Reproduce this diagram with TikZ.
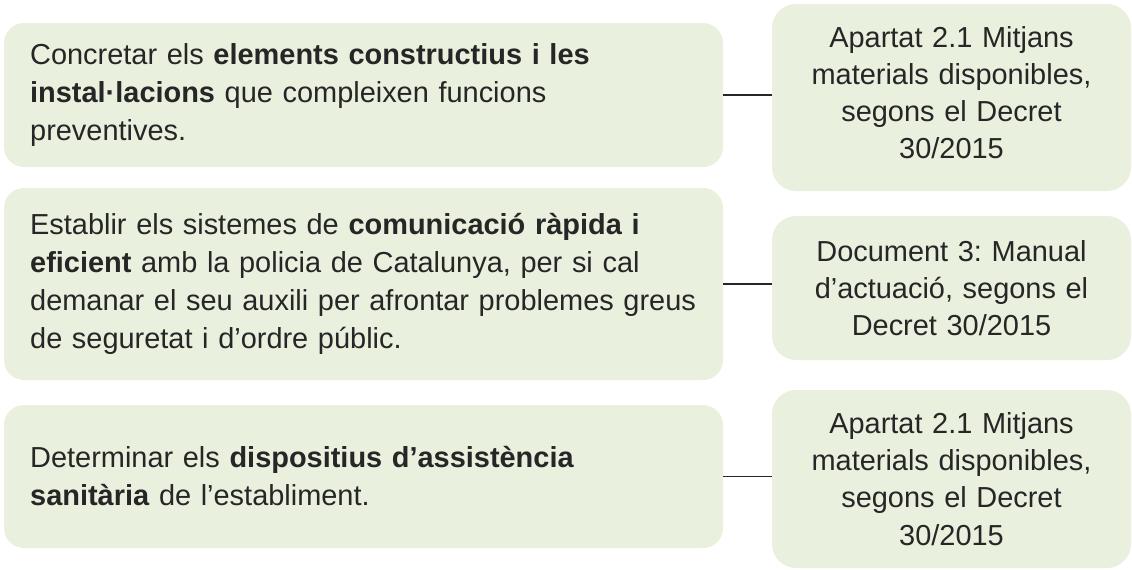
\documentclass[tikz,border=0pt]{standalone}
\usepackage{fontspec}
\setmainfont{Liberation Sans}
\frenchspacing
\definecolor{boxfill}{HTML}{E9F0DE}
\definecolor{txt}{HTML}{262626}
\begin{document}
\begin{tikzpicture}[x=0.75pt,y=-0.75pt,
  lbox/.style={fill=boxfill, draw=none, rounded corners=15pt, minimum width=539.25pt,
    text width=500pt, align=left, inner xsep=19.6pt, text=txt,
    font=\fontsize{21.7}{28.5}\selectfont},
  rbox/.style={fill=boxfill, draw=none, rounded corners=18pt, minimum width=269.25pt,
    text width=245pt, align=center, inner xsep=12pt, text=txt,
    font=\fontsize{21.7}{27.9}\selectfont},
  rtext/.style={text width=245pt, align=center, inner sep=0pt, text=txt,
    font=\fontsize{21.7}{27.9}\selectfont},
  link/.style={draw=txt, line width=1.1pt}]
\useasboundingbox (0,0) rectangle (1132,569);
\node[lbox, minimum height=108pt] (l1) at (363.5,95) {Concretar els \textbf{elements constructius i les}\\\textbf{instal·lacions} que compleixen funcions\\preventives.};
\node[lbox, minimum height=144pt] (l2) at (363.5,284) {Establir els sistemes de \textbf{comunicació ràpida i}\\\textbf{eficient} amb la policia de Catalunya, per si cal\\demanar el seu auxili per afrontar problemes greus\\de seguretat i d’ordre públic.};
\node[lbox, minimum height=107.25pt] (l3) at (363.5,476.5) {Determinar els \textbf{dispositius d’assistència}\\\textbf{sanitària} de l’establiment.};
\node[rbox, minimum height=140.25pt] (r1) at (951.5,97.5) {};
\node[rtext] (r1t) at (951.5,92.5) {Apartat 2.1 Mitjans\\materials disponibles,\\segons el Decret\\30/2015};
\node[rbox, minimum height=108pt] (r2) at (951.5,288) {Document 3: Manual\\d’actuació, segons el\\Decret 30/2015};
\node[rbox, minimum height=133.5pt] (r3) at (951.5,479) {Apartat 2.1 Mitjans\\materials disponibles,\\segons el Decret\\30/2015};
\draw[link] (l1.east) -- (l1.east -| r1.west);
\draw[link] (l2.east) -- (l2.east -| r2.west);
\draw[link] (l3.east) -- (l3.east -| r3.west);
\end{tikzpicture}
\end{document}
